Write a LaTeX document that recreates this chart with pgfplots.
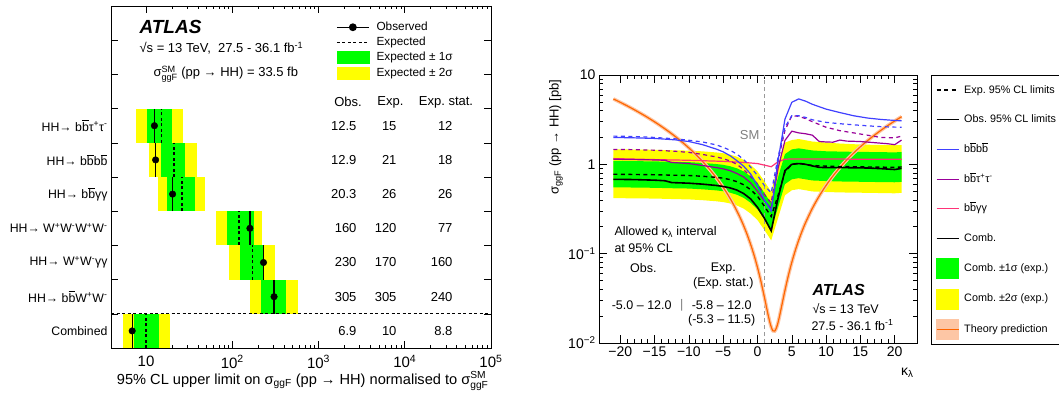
\documentclass[border=0pt]{standalone}
\usepackage{pgfplots}
\pgfplotsset{compat=1.18}
\usepackage{amsmath}
\usepackage{fontspec}
\setmainfont{Liberation Sans}
\definecolor{rgreen}{RGB}{0,255,0}
\definecolor{ryellow}{RGB}{255,255,0}
\definecolor{cbbbb}{RGB}{64,64,255}
\definecolor{cbbtt}{RGB}{153,0,153}
\definecolor{cbbgg}{RGB}{255,51,119}
\definecolor{theo}{RGB}{255,102,0}
\definecolor{theoband}{RGB}{253,198,165}
\newcommand{\fs}[1]{\fontsize{#1}{#1}\selectfont}
\newcommand{\bb}{b$\overline{\mbox{b}}$}
\begin{document}
\frenchspacing
\begin{tikzpicture}
\path[use as bounding box] (0pt,0pt) rectangle (1059pt,394pt);
% ================= LEFT PANEL =================
\begin{axis}[
  at={(111pt,46pt)}, anchor=south west,
  scale only axis, width=380pt, height=342pt,
  xmode=log, xmin=3.92, xmax=1e5,
  ymin=0, ymax=10,
  xtick={10,100,1000,10000,100000},
  xticklabels={10,10\textsuperscript{2},10\textsuperscript{3},10\textsuperscript{4},10\textsuperscript{5}},
  ytick={1,2,...,9}, yticklabels={},
  extra y ticks={0.5,1.5,2.5,3.5,4.5,5.5,6.5},
  extra y tick labels={Combined,HH→ \bb W\textsuperscript{+}W\textsuperscript{-},HH→ W\textsuperscript{+}W\textsuperscript{-}γγ,HH→ W\textsuperscript{+}W\textsuperscript{-}W\textsuperscript{+}W\textsuperscript{-},HH→ \bb γγ,HH→ \bb\bb,HH→ \bb τ\textsuperscript{+}τ\textsuperscript{-}},
  extra y tick style={major tick length=0pt},
  major tick length=7pt, minor tick length=3.5pt,
  tick style={black, line width=0.6pt},
  axis line style={line width=0.8pt},
  xticklabel style={font=\fs{15}, yshift=-4pt},
  yticklabel style={font=\fs{12.3}},
  legend cell align=left,
  legend style={at={(axis description cs:0.592,0.956)}, anchor=north west, draw=none, fill=none,
    inner sep=0pt, row sep=3pt, column sep=7pt, font=\fs{11.8},
    nodes={inner sep=0pt, text height=9.5pt, text depth=2.5pt}},
]
\addlegendimage{legend image code/.code={\draw[black, line width=1.4pt, mark=*, mark size=3.2pt, mark repeat=2, mark phase=2] plot coordinates {(0pt,0pt) (16pt,0pt) (32pt,0pt)};}}
\addlegendimage{legend image code/.code={\draw[black, line width=1.4pt, dash pattern=on 3pt off 2.5pt] (0pt,0pt) -- (32pt,0pt);}}
\addlegendimage{legend image code/.code={\fill[rgreen] (0pt,-6pt) rectangle (32pt,6pt);}}
\addlegendimage{legend image code/.code={\fill[ryellow] (0pt,-6pt) rectangle (32pt,6pt);}}
\legend{Observed,Expected,Expected ± 1σ,Expected ± 2σ}
% bb tau tau (row 6)
\addplot[fill=ryellow, draw=none] coordinates {(7.65,6) (26.9,6) (26.9,7) (7.65,7)} --cycle;
\addplot[fill=rgreen, draw=none] coordinates {(10.3,6) (20.0,6) (20.0,7) (10.3,7)} --cycle;
\addplot[black, line width=1.3pt, dash pattern=on 3pt off 2.5pt] coordinates {(15,6) (15,7)};
\addplot[black, line width=1.3pt] coordinates {(12.5,6) (12.5,7)};
\addplot[only marks, mark=*, mark size=3.3pt, black] coordinates {(12.5,6.5)};
% bbbb (row 5)
\addplot[fill=ryellow, draw=none] coordinates {(10.8,5) (38.5,5) (38.5,6) (10.8,6)} --cycle;
\addplot[fill=rgreen, draw=none] coordinates {(14.7,5) (28.6,5) (28.6,6) (14.7,6)} --cycle;
\addplot[black, line width=1.3pt, dash pattern=on 3pt off 2.5pt] coordinates {(21,5) (21,6)};
\addplot[black, line width=1.3pt] coordinates {(12.9,5) (12.9,6)};
\addplot[only marks, mark=*, mark size=3.3pt, black] coordinates {(12.9,5.5)};
% bb gamma gamma (row 4)
\addplot[fill=ryellow, draw=none] coordinates {(13.7,4) (48.2,4) (48.2,5) (13.7,5)} --cycle;
\addplot[fill=rgreen, draw=none] coordinates {(17.4,4) (36.5,4) (36.5,5) (17.4,5)} --cycle;
\addplot[black, line width=1.3pt, dash pattern=on 3pt off 2.5pt] coordinates {(26,4) (26,5)};
\addplot[black, line width=1.3pt] coordinates {(20.3,4) (20.3,5)};
\addplot[only marks, mark=*, mark size=3.3pt, black] coordinates {(20.3,4.5)};
% WWWW (row 3)
\addplot[fill=ryellow, draw=none] coordinates {(64.6,3) (223,3) (223,4) (64.6,4)} --cycle;
\addplot[fill=rgreen, draw=none] coordinates {(86.7,3) (177,3) (177,4) (86.7,4)} --cycle;
\addplot[black, line width=1.3pt, dash pattern=on 3pt off 2.5pt] coordinates {(120,3) (120,4)};
\addplot[black, line width=1.3pt] coordinates {(160,3) (160,4)};
\addplot[only marks, mark=*, mark size=3.3pt, black] coordinates {(160,3.5)};
% WW gamma gamma (row 2)
\addplot[fill=ryellow, draw=none] coordinates {(90.6,2) (316,2) (316,3) (90.6,3)} --cycle;
\addplot[fill=rgreen, draw=none] coordinates {(123,2) (231,2) (231,3) (123,3)} --cycle;
\addplot[black, line width=1.3pt, dash pattern=on 3pt off 2.5pt] coordinates {(170,2) (170,3)};
\addplot[black, line width=1.3pt] coordinates {(230,2) (230,3)};
\addplot[only marks, mark=*, mark size=3.3pt, black] coordinates {(230,2.5)};
% bbWW (row 1)
\addplot[fill=ryellow, draw=none] coordinates {(162,1) (574,1) (574,2) (162,2)} --cycle;
\addplot[fill=rgreen, draw=none] coordinates {(217,1) (425,1) (425,2) (217,2)} --cycle;
\addplot[black, line width=1.3pt, dash pattern=on 3pt off 2.5pt] coordinates {(305,1) (305,2)};
\addplot[black, line width=1.3pt] coordinates {(305,1) (305,2)};
\addplot[only marks, mark=*, mark size=3.3pt, black] coordinates {(305,1.5)};
% Combined (row 0)
\addplot[fill=ryellow, draw=none] coordinates {(5.41,0) (19.0,0) (19.0,1) (5.41,1)} --cycle;
\addplot[fill=rgreen, draw=none] coordinates {(7.25,0) (14.2,0) (14.2,1) (7.25,1)} --cycle;
\addplot[black, line width=1.3pt, dash pattern=on 3pt off 2.5pt] coordinates {(10,0) (10,1)};
\addplot[black, line width=1.3pt] coordinates {(6.9,0) (6.9,1)};
\addplot[only marks, mark=*, mark size=3.3pt, black] coordinates {(6.9,0.5)};
% separator
\addplot[black, line width=1.2pt, dash pattern=on 3pt off 2.5pt] coordinates {(3.92,1) (100000,1)};
\end{axis}
% left texts
\node[anchor=west, font=\bfseries\itshape\fs{19}] at (136pt,367pt) {ATLAS};
\node[anchor=west, font=\fs{13}] at (136pt,346pt) {√s = 13 TeV,\ \ 27.5 - 36.1 fb\textsuperscript{-1}};
\node[anchor=west, font=\fs{13}] at (150pt,320pt) {σ$^{\text{SM}}_{\text{ggF}}$ (pp → HH) = 33.5 fb};
\node[font=\fs{13}] at (348pt,291.7pt) {Obs.};
\node[font=\fs{13}] at (390.5pt,291.7pt) {Exp.};
\node[font=\fs{13}] at (446pt,291.7pt) {Exp. stat.};
\begin{scope}[every node/.style={anchor=east, font=\fs{13}}]
\node at (360pt,268.3pt) {12.5}; \node at (400pt,268.3pt) {15};  \node at (456pt,268.3pt) {12};
\node at (360pt,234.1pt) {12.9}; \node at (400pt,234.1pt) {21};  \node at (456pt,234.1pt) {18};
\node at (360pt,199.9pt) {20.3}; \node at (400pt,199.9pt) {26};  \node at (456pt,199.9pt) {26};
\node at (360pt,165.7pt) {160};  \node at (400pt,165.7pt) {120}; \node at (456pt,165.7pt) {77};
\node at (360pt,131.5pt) {230};  \node at (400pt,131.5pt) {170}; \node at (456pt,131.5pt) {160};
\node at (360pt,97.3pt) {305};   \node at (400pt,97.3pt) {305};  \node at (456pt,97.3pt) {240};
\node at (360pt,63.1pt) {6.9};   \node at (400pt,63.1pt) {10};   \node at (456pt,63.1pt) {8.8};
\end{scope}
\node[anchor=base east, font=\fs{14.6}] at (492pt,10pt) {95\% CL upper limit on σ$_{\text{ggF}}$ (pp → HH) normalised to σ$^{\text{SM}}_{\text{ggF}}$};
% ================= RIGHT PANEL =================
\begin{axis}[
  at={(599pt,51pt)}, anchor=south west,
  scale only axis, width=318pt, height=268pt,
  xmin=-23.1, xmax=23.25, ymode=log, ymin=0.01, ymax=10,
  xtick={-20,-15,...,20}, xticklabels={−20,−15,−10,−5,0,5,10,15,20},
  minor x tick num=4,
  ytick={0.01,0.1,1,10}, yticklabels={10\textsuperscript{−2},10\textsuperscript{−1},1,10},
  major tick length=8pt, minor tick length=4pt,
  tick style={black, line width=0.6pt},
  axis line style={line width=0.8pt},
  tick label style={font=\fs{14}},
  legend cell align=left,
  legend style={at={(axis description cs:1.044,1)}, anchor=north west, draw=black, line width=0.6pt, fill=white,
    inner xsep=4.5pt, inner ysep=4.7pt, row sep=9.7pt, column sep=5pt, font=\fs{10.8},
    nodes={inner sep=0pt, text height=13pt, text depth=7pt}},
]
\addlegendimage{legend image code/.code={\draw[black, line width=1.4pt, dash pattern=on 4pt off 3.5pt] (0pt,0pt) -- (22pt,0pt);}}
\addlegendimage{legend image code/.code={\draw[black, line width=1.4pt] (0pt,0pt) -- (22pt,0pt);}}
\addlegendimage{legend image code/.code={\draw[cbbbb, line width=1.2pt] (0pt,0pt) -- (22pt,0pt);}}
\addlegendimage{legend image code/.code={\draw[cbbtt, line width=1.2pt] (0pt,0pt) -- (22pt,0pt);}}
\addlegendimage{legend image code/.code={\draw[cbbgg, line width=1.2pt] (0pt,0pt) -- (22pt,0pt);}}
\addlegendimage{legend image code/.code={\draw[black, line width=1.4pt] (0pt,0pt) -- (22pt,0pt);}}
\addlegendimage{legend image code/.code={\fill[rgreen] (0pt,-10pt) rectangle (22pt,10pt);}}
\addlegendimage{legend image code/.code={\fill[ryellow] (0pt,-10pt) rectangle (22pt,10pt);}}
\addlegendimage{legend image code/.code={\fill[theoband] (0pt,-10pt) rectangle (22pt,10pt); \draw[theo, line width=1.2pt] (0pt,0pt) -- (22pt,0pt);}}
\legend{Exp. 95\% CL limits,Obs. 95\% CL limits,\bb\bb,\bb τ\textsuperscript{+}τ\textsuperscript{-},\bb γγ,Comb.,Comb. ±1σ (exp.),Comb. ±2σ (exp.),Theory prediction}
% yellow band
\addplot[fill=ryellow, draw=none] coordinates {
(-21,1.473) (-18,1.463) (-15,1.454) (-12,1.435) (-10,1.425) (-8,1.397) (-6,1.359) (-5,1.33) (-4,1.283) (-3,1.216) (-2,1.121) (-1,0.988) (0,0.836) (1,0.646) (2,0.494) (3,1.0) (4,1.75) (5,1.87) (6,1.92) (7,1.86) (8,1.80) (10,1.75) (12,1.71) (14,1.68) (16,1.66) (18,1.645) (20,1.635) (21,1.64)
(21,0.48) (20,0.474) (18,0.477) (16,0.48) (14,0.482) (12,0.485) (10,0.49) (8,0.497) (7,0.513) (6,0.528) (5,0.513) (4,0.45) (3,0.25) (2,0.141) (1,0.184) (0,0.238) (-1,0.281) (-2,0.319) (-3,0.346) (-4,0.365) (-5,0.378) (-6,0.386) (-8,0.397) (-10,0.405) (-12,0.408) (-15,0.414) (-18,0.416) (-21,0.419)} --cycle;
% green band
\addplot[fill=rgreen, draw=none] coordinates {
(-21,1.093) (-18,1.086) (-15,1.079) (-12,1.065) (-10,1.058) (-8,1.036) (-6,1.008) (-5,0.987) (-4,0.952) (-3,0.902) (-2,0.832) (-1,0.733) (0,0.620) (1,0.479) (2,0.367) (3,0.72) (4,1.3) (5,1.47) (6,1.51) (7,1.47) (8,1.43) (10,1.40) (12,1.39) (14,1.38) (16,1.375) (18,1.37) (20,1.36) (21,1.375)
(21,0.636) (20,0.63) (18,0.633) (16,0.636) (14,0.64) (12,0.643) (10,0.65) (8,0.66) (7,0.68) (6,0.70) (5,0.68) (4,0.6) (3,0.33) (2,0.186) (1,0.243) (0,0.314) (-1,0.371) (-2,0.421) (-3,0.457) (-4,0.482) (-5,0.5) (-6,0.511) (-8,0.525) (-10,0.536) (-12,0.539) (-15,0.546) (-18,0.55) (-21,0.553)} --cycle;
% SM line
\addplot[gray!80, line width=1pt, dash pattern=on 4pt off 3pt] coordinates {(1,0.01) (1,10)};
% theory
\pgfplotstableread{
k s
-21 5.396
-20 4.946
-19 4.515
-18 4.104
-17 3.713
-16 3.342
-15 2.990
-14 2.657
-13 2.345
-12 2.052
-11 1.779
-10 1.525
-9 1.291
-8 1.077
-7 0.882
-6 0.707
-5 0.552
-4.5 0.482
-4 0.416
-3.5 0.356
-3 0.300
-2.5 0.250
-2 0.204
-1.5 0.163
-1 0.127
-0.5 0.0962
0 0.0701
0.5 0.0490
1 0.0328
1.25 0.0265
1.5 0.0215
1.75 0.0177
2 0.0151
2.25 0.0137
2.5 0.0136
2.75 0.0147
3 0.0170
3.25 0.0206
3.5 0.0254
3.75 0.0314
4 0.0387
4.5 0.0569
5 0.0800
5.5 0.108
6 0.141
6.5 0.179
7 0.222
8 0.322
9 0.442
10 0.581
11 0.741
12 0.919
13 1.118
14 1.336
15 1.574
16 1.832
17 2.109
18 2.406
19 2.722
20 3.058
21 3.414
}\theory
\addplot[theoband, line width=3.6pt, smooth] table[x=k, y=s] {\theory};
\addplot[theo, line width=1.2pt, smooth] table[x=k, y=s] {\theory};
% bb gamma gamma
\addplot[cbbgg, line width=1.2pt] coordinates {(-21,1.16) (-15,1.13) (-10,1.11) (-5,1.08) (-2,1.05) (0,1.02) (1,0.98) (2,0.94) (3,1.07) (4,1.14) (5,1.15) (10,1.15) (15,1.14) (21,1.14)};
% bb tau tau exp / obs
\addplot[cbbtt, line width=1.2pt, dash pattern=on 4pt off 3.5pt] coordinates {(-21,1.47) (-18,1.46) (-15,1.44) (-12,1.40) (-10,1.36) (-8,1.29) (-6,1.21) (-5,1.16) (-4,1.09) (-3,1.0) (-2,0.87) (-1,0.73) (0,0.60) (1,0.46) (2,0.37) (3,1.1) (4,2.4) (5,3.5) (6,3.45) (7,3.25) (8,3.0) (10,2.6) (12,2.38) (14,2.25) (16,2.12) (18,2.0) (20,1.98) (21,2.07)};
\addplot[cbbtt, line width=1.2pt] coordinates {(-21,1.14) (-18,1.13) (-15,1.12) (-13.5,1.11) (-12.5,1.05) (-10,1.02) (-8,0.97) (-6,0.92) (-5,0.89) (-4,0.85) (-3,0.79) (-2,0.72) (-1,0.62) (0,0.50) (1,0.39) (2,0.32) (3,0.9) (4,1.85) (5,2.35) (6,2.25) (7,2.2) (8,2.12) (9,1.8) (10,1.78) (11,1.77) (12,1.87) (13,1.82) (15,1.8) (17,1.75) (19,1.70) (20,1.66) (21,1.87)};
% bbbb exp / obs
\addplot[cbbbb, line width=1.2pt, dash pattern=on 4pt off 3.5pt] coordinates {(-21,2.07) (-18,2.05) (-15,2.0) (-12,1.93) (-10,1.86) (-8,1.78) (-6,1.65) (-5,1.55) (-4,1.44) (-3,1.30) (-2,1.13) (-1,0.93) (0,0.75) (1,0.58) (2,0.48) (3,1.2) (4,2.6) (5,3.5) (6,3.5) (7,3.35) (8,3.15) (10,2.95) (12,2.85) (14,2.77) (16,2.7) (18,2.64) (20,2.61) (21,2.6)};
\addplot[cbbbb, line width=1.2pt] coordinates {(-21,2.0) (-18,1.98) (-15,1.95) (-12,1.88) (-10,1.80) (-8,1.66) (-6,1.48) (-5,1.38) (-4,1.25) (-3,1.10) (-2,0.95) (-1,0.78) (0,0.58) (1,0.40) (2,0.30) (3,1.1) (4,3.2) (5,4.95) (6,5.4) (7,5.1) (8,4.7) (10,4.15) (12,3.8) (14,3.5) (16,3.3) (18,3.18) (20,3.1) (21,3.07)};
% combined exp / obs
\addplot[black, line width=1.4pt, dash pattern=on 4pt off 3.5pt] coordinates {(-21,0.775) (-18,0.77) (-15,0.765) (-12,0.755) (-10,0.75) (-8,0.735) (-6,0.715) (-5,0.70) (-4,0.675) (-3,0.64) (-2,0.59) (-1,0.52) (0,0.44) (1,0.34) (2,0.26) (3,0.45) (4,0.82) (5,1.0) (6,1.03) (7,1.0) (8,0.97) (10,0.955) (12,0.945) (14,0.94) (16,0.935) (18,0.93) (20,0.925) (21,0.935)};
\addplot[black, line width=1.6pt] coordinates {(-21,0.68) (-18,0.675) (-15,0.665) (-13.5,0.655) (-12.5,0.625) (-10,0.615) (-8,0.60) (-6,0.58) (-5,0.565) (-4,0.545) (-3,0.515) (-2,0.47) (-1,0.41) (0,0.33) (1,0.25) (2,0.18) (3,0.42) (4,0.85) (5,1.0) (6,1.02) (7,1.0) (8,0.96) (9,0.925) (10,0.92) (12,0.92) (14,0.915) (16,0.91) (18,0.895) (20,0.875) (21,0.9)};
\end{axis}
% right texts
\node[rotate=90, anchor=east, font=\fs{13}] at (556pt,318pt) {σ$_{\text{ggF}}$ (pp → HH) [pb]};
\node[anchor=base east, font=\fs{14}] at (917pt,19pt) {κ$_{\text{λ}}$};
\node[anchor=east, font=\fs{13}, text=gray] at (763pt,259pt) {SM};
\node[anchor=west, font=\fs{12.5}] at (611pt,162.3pt) {Allowed κ$_{\text{λ}}$ interval};
\node[anchor=west, font=\fs{12.5}] at (611pt,145.7pt) {at 95\% CL};
\node[font=\fs{12.5}] at (643.3pt,125.7pt) {Obs.};
\node[font=\fs{12.5}] at (723.3pt,125.7pt) {Exp.};
\node[font=\fs{12.5}] at (723.3pt,110.7pt) {(Exp. stat.)};
\node[font=\fs{12.5}] at (641.7pt,89pt) {-5.0 – 12.0};
\node[font=\fs{12.5}, text=gray] at (681.7pt,89pt) {|};
\node[font=\fs{12.5}] at (721.7pt,89pt) {-5.8 – 12.0};
\node[font=\fs{12.5}] at (721.7pt,74pt) {(-5.3 – 11.5)};
\node[anchor=west, font=\bfseries\itshape\fs{16}] at (809pt,104pt) {ATLAS};
\node[anchor=west, font=\fs{12.5}] at (809pt,85.7pt) {√s = 13 TeV};
\node[anchor=west, font=\fs{12.5}] at (808pt,69pt) {27.5 - 36.1 fb\textsuperscript{-1}};
\end{tikzpicture}
\end{document}
